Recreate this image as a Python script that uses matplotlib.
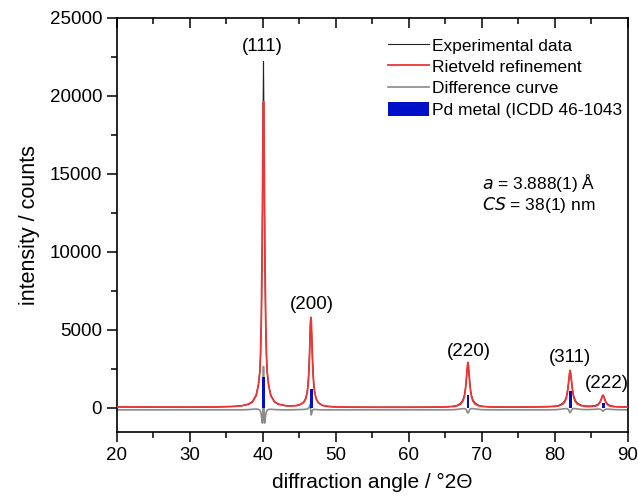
import matplotlib
matplotlib.use("Agg")
import matplotlib.pyplot as plt
from matplotlib.ticker import MultipleLocator

plt.rcParams['font.family'] = ['Liberation Sans', 'DejaVu Sans']

# 2theta grid (denser around the reflections)
two_theta = (
    [20, 25, 30, 34, 36]
    + [37.1, 38.1, 38.6, 39.1, 39.4, 39.6, 39.7, 39.8, 39.9, 39.95, 40.0, 40.05, 40.1,
       40.15, 40.2, 40.25, 40.3, 40.4, 40.5, 40.6, 40.8, 41.1, 41.6, 42.1, 43.1]
    + [43.6, 44.6, 45.1, 45.6, 45.9, 46.1, 46.2, 46.3, 46.4, 46.45, 46.5, 46.55, 46.6,
       46.65, 46.7, 46.75, 46.8, 46.9, 47.0, 47.1, 47.3, 47.6, 48.1, 48.6, 49.6]
    + [52, 56, 60, 63]
    + [65.1, 66.1, 66.6, 67.1, 67.4, 67.6, 67.7, 67.8, 67.9, 68.0, 68.1, 68.2, 68.3,
       68.4, 68.5, 68.6, 68.8, 69.1, 69.6, 70.1, 71.1]
    + [74, 77]
    + [79.1, 80.1, 80.6, 81.1, 81.4, 81.6, 81.7, 81.8, 81.9, 82.0, 82.1, 82.2, 82.3,
       82.4, 82.5, 82.6, 82.8, 83.1, 83.6, 84.1]
    + [84.6, 85.1, 85.6, 85.9, 86.1, 86.2, 86.3, 86.4, 86.5, 86.6, 86.7, 86.8, 86.9,
       87.0, 87.1, 87.3, 87.6, 88.1, 88.6, 90]
)

i_obs = (
    [60, 50, 45, 60, 90]
    + [130, 250, 420, 830, 1480, 2310, 3410, 5410, 8910, 11580, 15060, 19260, 22200,
       19260, 15060, 11580, 8910, 5410, 3410, 2310, 1480, 820, 400, 250, 140]
    + [120, 150, 220, 370, 630, 1080, 1520, 2250, 3490, 4360, 5130, 5610, 5630,
       5210, 4630, 3910, 3210, 2130, 1460, 1050, 610, 340, 170, 110, 65]
    + [45, 38, 38, 45]
    + [60, 97, 160, 295, 500, 785, 1025, 1395, 1895, 2425, 2715, 2425, 1895,
       1395, 1025, 785, 500, 295, 160, 97, 60]
    + [45, 55]
    + [75, 106, 164, 300, 490, 747, 962, 1271, 1666, 2042, 2217, 2042, 1667,
       1273, 964, 751, 495, 304, 172, 127]
    + [105, 120, 159, 225, 333, 399, 499, 610, 705, 741, 704, 609, 496,
       396, 329, 219, 150, 95, 71, 49]
)

i_calc = (
    [60, 50, 45, 60, 90]
    + [130, 230, 380, 780, 1450, 2330, 3530, 5730, 9630, 12430, 15630, 18430, 19630,
       18430, 15630, 12430, 9630, 5730, 3530, 2330, 1450, 780, 380, 240, 140]
    + [120, 140, 200, 340, 590, 1020, 1430, 2120, 3260, 4030, 4850, 5530, 5800,
       5530, 4850, 4030, 3260, 2120, 1430, 1020, 590, 330, 170, 110, 65]
    + [45, 38, 38, 45]
    + [60, 87, 130, 235, 420, 705, 955, 1345, 1915, 2575, 2915, 2575, 1915,
       1345, 955, 705, 420, 235, 130, 87, 60]
    + [45, 55]
    + [75, 96, 134, 240, 410, 667, 892, 1221, 1676, 2162, 2397, 2162, 1677,
       1223, 894, 671, 415, 244, 142, 107]
    + [85, 90, 119, 175, 283, 359, 469, 610, 755, 821, 754, 609, 466,
       356, 279, 169, 110, 75, 61, 49]
)

i_diff = (
    [-130, -130, -130, -130, -130]
    + [-130, -110, -90, -80, -100, -150, -250, -450, -850, -980, -700, 700, 2650,
       700, -700, -980, -850, -450, -250, -150, -100, -90, -110, -120, -130]
    + [-130, -120, -110, -100, -90, -70, -40, 0, 100, 200, 150, -50, -300,
       -450, -350, -250, -180, -120, -100, -100, -110, -120, -130, -130, -130]
    + [-130, -130, -130, -130]
    + [-130, -120, -100, -70, -50, -50, -60, -80, -150, -280, -330, -280, -150,
       -80, -60, -50, -50, -70, -100, -120, -130]
    + [-130, -130]
    + [-130, -120, -100, -70, -50, -50, -60, -80, -140, -250, -310, -250, -140,
       -80, -60, -50, -50, -70, -100, -110]
    + [-110, -100, -90, -80, -80, -90, -100, -130, -180, -210, -180, -130, -100,
       -90, -80, -80, -90, -110, -120, -130]
)

# Pd reference reflections
ref_pos = [40.12, 46.66, 68.12, 82.10, 86.62]
ref_int = [1950, 1200, 830, 1050, 320]

hkl_labels = ['(111)', '(200)', '(220)', '(311)', '(222)']
hkl_x = [40.0, 46.7, 68.2, 82.05, 87.1]
hkl_y = [23150, 6600, 3600, 3200, 1550]

fig = plt.figure(figsize=(6.38, 4.96), dpi=100)
ax = fig.add_axes([0.183, 0.129, 0.801, 0.835])

ax.plot(two_theta, i_obs, color='#222222', lw=0.8, zorder=2, label='Experimental data')
ax.plot(two_theta, i_calc, color='#ee3535', lw=1.3, zorder=3, label='Rietveld refinement')
ax.plot(two_theta, i_diff, color='#8a8a8a', lw=1.2, zorder=2.5, label='Difference curve')
ax.bar(ref_pos, ref_int, width=0.38, color='#0010c8', zorder=4,
       label='Pd metal (ICDD 46-1043')

for lab, x, y in zip(hkl_labels, hkl_x, hkl_y):
    ax.text(x, y, lab, ha='center', va='center', fontsize=13.5)

ax.text(70.0, 14420, r'$\it{a}$ = 3.888(1) Å', fontsize=12.5, va='center')
ax.text(70.0, 13000, r'$\it{CS}$ = 38(1) nm', fontsize=12.5, va='center')

ax.set_xlim(20, 90)
ax.set_ylim(-1550, 25000)
ax.xaxis.set_major_locator(MultipleLocator(10))
ax.xaxis.set_minor_locator(MultipleLocator(5))
ax.yaxis.set_major_locator(MultipleLocator(5000))
ax.yaxis.set_minor_locator(MultipleLocator(2500))

ax.tick_params(which='both', direction='out', labelsize=13.5, width=1.1)
ax.tick_params(which='major', length=7)
ax.tick_params(which='minor', length=4)
ax.tick_params(axis='x', which='both', top=True, labeltop=False)
for t in ax.xaxis.get_ticklines(minor=False)[1::2] + ax.xaxis.get_ticklines(minor=True)[1::2]:
    t.set_marker(3)
for s in ax.spines.values():
    s.set_linewidth(1.2)

ax.set_xlabel('diffraction angle / °2Θ', fontsize=15, labelpad=7)
ax.set_ylabel('intensity / counts', fontsize=15.5, labelpad=7)

ax.legend(loc='upper left', bbox_to_anchor=(0.53, 0.953), frameon=False,
          fontsize=12.5, borderpad=0, borderaxespad=0, handlelength=2.4,
          handletextpad=0.15, labelspacing=0.3, handleheight=0.9)

fig.savefig('out.png', dpi=100)
